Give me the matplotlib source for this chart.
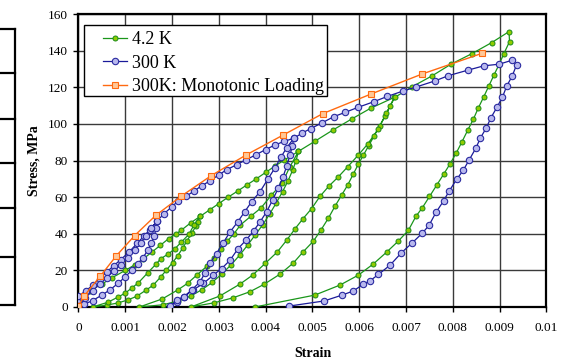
import numpy as np
import matplotlib.pyplot as plt
from matplotlib.lines import Line2D
from matplotlib.patches import Rectangle

plt.rcParams['font.family'] = ['Liberation Serif', 'DejaVu Serif']

# ---- 4.2 K (loading / unloading cycles) ----
g_load1_x = [0, 0.00025, 0.0005, 0.00072, 0.001, 0.0012, 0.00137, 0.00157, 0.00175, 0.00193, 0.00208, 0.0022, 0.0024, 0.0026]
g_load1_y = [0, 9, 12.5, 16, 20, 23, 26, 30, 33.7, 37.4, 39.8, 42, 46, 49.5]
g_unl1_x = [0.0026, 0.00255, 0.00251, 0.00242, 0.00232, 0.00223, 0.00212, 0.00201, 0.00188, 0.00176, 0.0016, 0.00145, 0.00124, 0.00105, 0.00084, 0.0006, 0.0003]
g_unl1_y = [49.5, 46.2, 44.2, 40.3, 36.2, 32.3, 28, 24.2, 20.2, 16.5, 12, 9.3, 5.8, 3.8, 2.2, 1, 0]
g_load2_x = [0.0003, 0.00063, 0.00085, 0.001, 0.00114, 0.00128, 0.00148, 0.00166, 0.00176, 0.00192, 0.00206, 0.0022, 0.00236, 0.00247, 0.0026,
             0.0028, 0.003, 0.0032, 0.0034, 0.0036, 0.0038, 0.004, 0.0042, 0.0044, 0.0047]
g_load2_y = [0, 2.6, 5.5, 7.6, 10.4, 13.2, 18.7, 23.5, 26.4, 29, 31.8, 35.5, 39.7, 44.9, 49.5,
             53, 56.5, 60, 63.3, 66.7, 70, 73.5, 77, 80.3, 85]
g_unl2_x = [0.0047, 0.00465, 0.00458, 0.00448, 0.00436, 0.00423, 0.00409, 0.00394, 0.00378, 0.00362, 0.00345, 0.00326, 0.00306, 0.00286, 0.00264, 0.0024, 0.00212, 0.0018, 0.0013]
g_unl2_y = [85, 80, 75, 69, 63, 57, 51, 45, 39.5, 34, 28.5, 23, 18, 13.5, 9.5, 6, 3.2, 1.2, 0]
g_load3_x = [0.0013, 0.00179, 0.00212, 0.00233, 0.00254, 0.00275, 0.0029, 0.00304, 0.00318, 0.00332, 0.00346, 0.00368, 0.0039, 0.00412, 0.00435, 0.00451, 0.0047,
             0.00505, 0.00544, 0.00584, 0.00624, 0.00675]
g_load3_y = [0, 4.4, 9.3, 12.9, 17.7, 22.4, 27, 31.8, 36, 39.9, 44.8, 49.5, 54.1, 61, 67.5, 76.2, 85,
             90.5, 96.7, 102.7, 108.5, 114.5]
g_unl3_x = [0.00675, 0.00666, 0.00656, 0.00644, 0.00632, 0.0062, 0.00609, 0.00598, 0.00587, 0.00575, 0.00562, 0.00548, 0.00534, 0.00518, 0.00502, 0.0048,
            0.00459, 0.00431, 0.00396, 0.00366, 0.0033, 0.0029, 0.0024]
g_unl3_y = [114.5, 110, 104.5, 99, 93.5, 88, 83, 78, 72.5, 66.5, 61, 55, 48.5, 42, 36, 30.1,
            24, 18, 12.3, 8.3, 5, 2.3, 0]
g_load4_x = [0.0024, 0.00302, 0.00345, 0.00372, 0.00399, 0.00425, 0.00445, 0.00463, 0.0048, 0.00498, 0.00516, 0.00535, 0.00555, 0.00575, 0.00598, 0.00618,
             0.0064, 0.00658, 0.00676, 0.00713, 0.00756, 0.00796, 0.00841, 0.00883, 0.0092]
g_load4_y = [0, 6, 12.5, 17.4, 23.8, 30.1, 36.5, 42.8, 48.3, 53.7, 60.4, 66, 71, 76.5, 83, 89,
             97, 106, 114.5, 120.3, 126.3, 132.6, 138.4, 144.4, 150.4]
g_unl4_x = [0.0092, 0.00921, 0.00909, 0.00899, 0.00888, 0.00877, 0.00866, 0.00854, 0.00844, 0.00832, 0.00819, 0.00807, 0.00794, 0.0078, 0.00765,
            0.0075, 0.00735, 0.00721, 0.00705, 0.00683, 0.00659, 0.0063, 0.00598, 0.00559, 0.00505, 0.00377]
g_unl4_y = [150.4, 144.9, 138.4, 132.6, 126.8, 120.8, 114.8, 108.5, 102.7, 96.7, 90.0, 84.0, 78.2, 72.4, 66.4,
            60.4, 54.3, 49.5, 41.9, 35.9, 30.1, 23.5, 17.4, 12.0, 6.5, 0]

# ---- 300 K (loading / unloading cycles) ----
b_load1_x = [0, 0, 0, 0.00016, 0.0003, 0.00045, 0.0006, 0.00075, 0.0009, 0.00108, 0.00125, 0.0014, 0.00153, 0.00168]
b_load1_y = [0.5, 3, 6, 8.9, 11.8, 15.5, 19, 22.5, 25.8, 30, 34.7, 38.8, 42.3, 47]
b_unl1_x = [0.00168, 0.00166, 0.00162, 0.00156, 0.00148, 0.00138, 0.00127, 0.00114, 0.001, 0.00085, 0.00068, 0.0005, 0.0003, 0.00012, 0]
b_unl1_y = [47, 43, 39, 35, 31, 27, 23.5, 20, 16.5, 13, 9.5, 6.5, 3.5, 1.5, 0.5]
b_load2_x = [0, 0.00015, 0.0003, 0.00045, 0.0006, 0.00075, 0.0009, 0.00105, 0.0012, 0.00133, 0.00145, 0.00156, 0.00168, 0.00183, 0.00199,
             0.00213, 0.0023, 0.00247, 0.00263, 0.0028, 0.003, 0.00317, 0.00338, 0.00358, 0.00379, 0.004, 0.0042, 0.0044, 0.0046]
b_load2_y = [0.5, 5, 9, 12.5, 16, 19.5, 23, 27, 31, 35, 39, 43, 47, 51, 54.6,
             57.9, 60.5, 63.3, 66.2, 68.7, 72.2, 75, 77.7, 80.4, 83.1, 86, 88.5, 90.5, 92.1]
b_unl2_x = [0.0046, 0.00457, 0.00452, 0.00445, 0.00437, 0.00427, 0.00415, 0.00402, 0.00388, 0.00374, 0.00358, 0.00341, 0.00324, 0.00306,
            0.00288, 0.00267, 0.00245, 0.00225, 0.0021, 0.00196]
b_unl2_y = [92.1, 88, 83, 77, 71, 65, 58.5, 52, 46.5, 41.5, 36.5, 31.9, 25.6, 21, 17.4, 12.9, 9.3, 5.5, 3, 0.5]
b_load3_x = [0.00196, 0.0021, 0.00225, 0.00242, 0.0026, 0.0027, 0.00281, 0.00295, 0.00309, 0.00324, 0.0034, 0.00355, 0.0037, 0.00388, 0.00405,
             0.0042, 0.00433, 0.00445, 0.0046, 0.00478, 0.00496, 0.0052, 0.00546, 0.0057, 0.00597, 0.00631, 0.0066, 0.00693, 0.00721,
             0.00762, 0.0079, 0.00833, 0.00866, 0.00899, 0.00927]
b_load3_y = [0.5, 3.8, 5.6, 9.3, 13.8, 18.5, 23.8, 29.2, 35, 41, 46.4, 52, 57.5, 63, 70,
             76, 82, 87, 92.1, 95, 97.4, 100.5, 104, 106.3, 109, 112.1, 115, 117.9, 120.1,
             123.5, 126.3, 129.4, 131.7, 132.6, 134.8]
b_unl3_x = [0.00927, 0.00936, 0.00927, 0.00915, 0.00906, 0.00894, 0.00881, 0.00871, 0.00859, 0.00849, 0.00835, 0.00822, 0.00808, 0.00792,
            0.0078, 0.00764, 0.00749, 0.00735, 0.00713, 0.0069, 0.00666, 0.00641, 0.00623, 0.00609, 0.00587, 0.00562, 0.00525, 0.0045]
b_unl3_y = [134.8, 132.2, 126.3, 120.6, 114.7, 109, 103.2, 97.6, 92.4, 86.7, 80.4, 74.6, 69.7, 63.3,
            57.9, 51.7, 44.6, 40.4, 35, 29.6, 22.9, 17.8, 14.3, 12.5, 8.7, 6.4, 3.3, 0.5]

# ---- 300 K monotonic ----
mono_x = [0, 0.00012, 0.00047, 0.00081, 0.0012, 0.00165, 0.0022, 0.00284, 0.00358, 0.00438, 0.00522, 0.00625, 0.00735, 0.00863]
mono_y = [0.5, 6, 17, 28, 39, 50, 60.6, 71.8, 83, 94, 105.6, 116.3, 127.3, 138.6]

x_ticks = [0, 0.001, 0.002, 0.003, 0.004, 0.005, 0.006, 0.007, 0.008, 0.009, 0.01]
x_tick_labels = ['0', '0.001', '0.002', '0.003', '0.004', '0.005', '0.006', '0.007', '0.008', '0.009', '0.01']
y_ticks = [0, 20, 40, 60, 80, 100, 120, 140, 160]

green_x = g_load1_x + g_unl1_x[1:] + g_load2_x[1:] + g_unl2_x[1:] + g_load3_x[1:] + g_unl3_x[1:] + g_load4_x[1:] + g_unl4_x[1:]
green_y = g_load1_y + g_unl1_y[1:] + g_load2_y[1:] + g_unl2_y[1:] + g_load3_y[1:] + g_unl3_y[1:] + g_load4_y[1:] + g_unl4_y[1:]
blue_x = b_load1_x + b_unl1_x[1:] + b_load2_x[1:] + b_unl2_x[1:] + b_load3_x[1:] + b_unl3_x[1:]
blue_y = b_load1_y + b_unl1_y[1:] + b_load2_y[1:] + b_unl2_y[1:] + b_load3_y[1:] + b_unl3_y[1:]

fig = plt.figure(figsize=(5.72, 3.61), dpi=100)
ax = fig.add_axes([0.1372, 0.1496, 0.8182, 0.8116])

ax.plot(green_x, green_y, color='#1a961a', lw=0.9, marker='o', ms=3.6,
        mfc='#8fcc00', mec='#1a8a1a', mew=0.7, label='4.2 K', zorder=3)
ax.plot(blue_x, blue_y, color='#1a1a99', lw=0.9, marker='o', ms=4.6,
        mfc='#b8b8ee', mec='#2a2aa0', mew=0.8, label='300 K', zorder=4)
ax.plot(mono_x, mono_y, color='#ff6a10', lw=1.0, marker='s', ms=4.6,
        mfc='#ffc898', mec='#ff6a10', mew=0.8, label='300K: Monotonic Loading', zorder=5)

ax.set_xlim(0, 0.01)
ax.set_ylim(0, 160)
ax.set_xticks(x_ticks)
ax.set_xticklabels(x_tick_labels)
ax.set_yticks(y_ticks)
ax.tick_params(direction='out', length=3.5, width=1, labelsize=9.5, pad=4, color='black')
ax.tick_params(axis='x', pad=7.5)
ax.grid(True, color='#3a3a3a', lw=1.0)
ax.set_axisbelow(True)
for s in ax.spines.values():
    s.set_linewidth(1.6)
    s.set_color('black')

ax.set_xlabel('Strain', fontsize=10, fontweight='bold', labelpad=9.5)
ax.set_ylabel('Stress, MPa', fontsize=10, fontweight='bold', labelpad=5.5)

# legend box: frame drawn separately so the entries can sit with a wider left margin
ax.add_patch(Rectangle((0.01175, 0.7201), 0.5193, 0.2424, transform=ax.transAxes,
                       facecolor='white', edgecolor='black', lw=1.0, zorder=6, clip_on=False))
leg = ax.legend(loc='upper left', bbox_to_anchor=(0.0524, 0.942), borderaxespad=0,
                fontsize=13, frameon=False, handlelength=1.33, handletextpad=0.28,
                labelspacing=0.36, borderpad=0)
leg.set_zorder(7)

# table edge cropped at the left border of the picture
fw, fh = 572.0, 361.0
fig.add_artist(Line2D([15 / fw, 15 / fw], [1 - 29 / fh, 1 - 305 / fh], color='black', lw=1.6))
for yy in [29, 73, 119, 163, 208, 257, 305]:
    fig.add_artist(Line2D([0, 15 / fw], [1 - yy / fh, 1 - yy / fh], color='black', lw=1.6))

fig.savefig('out.png', dpi=100)
